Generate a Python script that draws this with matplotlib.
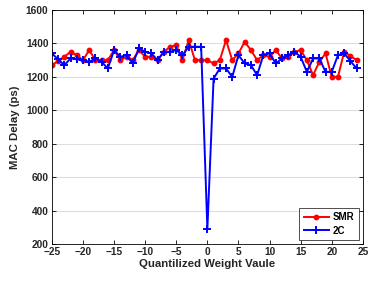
import matplotlib
matplotlib.use("Agg")
import matplotlib.pyplot as plt

plt.rcParams['font.family'] = ['Liberation Sans', 'DejaVu Sans']
plt.rcParams['font.weight'] = 'bold'

x_vals = list(range(-25, 25))
smr = [1270, 1295, 1320, 1350, 1330, 1300, 1360, 1300, 1300, 1300,
       1360, 1300, 1320, 1300, 1360, 1320, 1320, 1300, 1350, 1380,
       1390, 1300, 1420, 1300, 1300, 1300, 1280, 1300, 1420, 1300,
       1340, 1410, 1360, 1300, 1330, 1320, 1360, 1310, 1320, 1350,
       1360, 1300, 1210, 1290, 1340, 1200, 1200, 1350, 1325, 1300]
two_c = [1340, 1305, 1270, 1310, 1305, 1300, 1290, 1310, 1290, 1250,
         1360, 1320, 1330, 1280, 1370, 1350, 1340, 1300, 1350, 1350,
         1360, 1330, 1380, 1380, 1380, 290, 1190, 1250, 1250, 1200,
         1330, 1280, 1270, 1210, 1330, 1340, 1280, 1310, 1330, 1350,
         1320, 1230, 1310, 1310, 1230, 1230, 1330, 1340, 1295, 1250]
x_ticks = [-25, -20, -15, -10, -5, 0, 5, 10, 15, 20, 25]
y_ticks = [200, 400, 600, 800, 1000, 1200, 1400, 1600]

fig = plt.figure(figsize=(3.68, 2.86), dpi=100)
ax = fig.add_axes([0.141, 0.147, 0.845, 0.818])

ax.plot(x_vals, smr, color='#ff0000', marker='o', markersize=3.2, linewidth=1.4, label='SMR')
ax.plot(x_vals, two_c, color='#0000ff', marker='+', markersize=6, markeredgewidth=1.4, linewidth=1.4, label='2C')

ax.set_xlim(-25, 25)
ax.set_ylim(200, 1600)
ax.set_xticks(x_ticks)
ax.set_yticks(y_ticks)
ax.yaxis.grid(True, color='#dedede', linewidth=0.8)
ax.set_axisbelow(True)
ax.tick_params(direction='in', top=True, right=True, labelsize=7.3, length=3, width=0.6,
               labelcolor='#262626', pad=2.5)
for lab in ax.get_xticklabels() + ax.get_yticklabels():
    lab.set_fontweight('bold')
for s in ax.spines.values():
    s.set_linewidth(0.6)

ax.set_xlabel('Quantilized Weight Vaule', fontsize=8.2, fontweight='bold', labelpad=1, color='#262626')
ax.set_ylabel('MAC Delay (ps)', fontsize=8.2, fontweight='bold', labelpad=4, color='#262626')

leg = ax.legend(loc='lower right', fontsize=7, frameon=True, fancybox=False,
                edgecolor='black', handlelength=2.6, borderpad=0.45, labelspacing=0.35,
                handletextpad=0.4, borderaxespad=0.4)
leg.get_frame().set_linewidth(0.6)

fig.savefig('out.png', dpi=100)
